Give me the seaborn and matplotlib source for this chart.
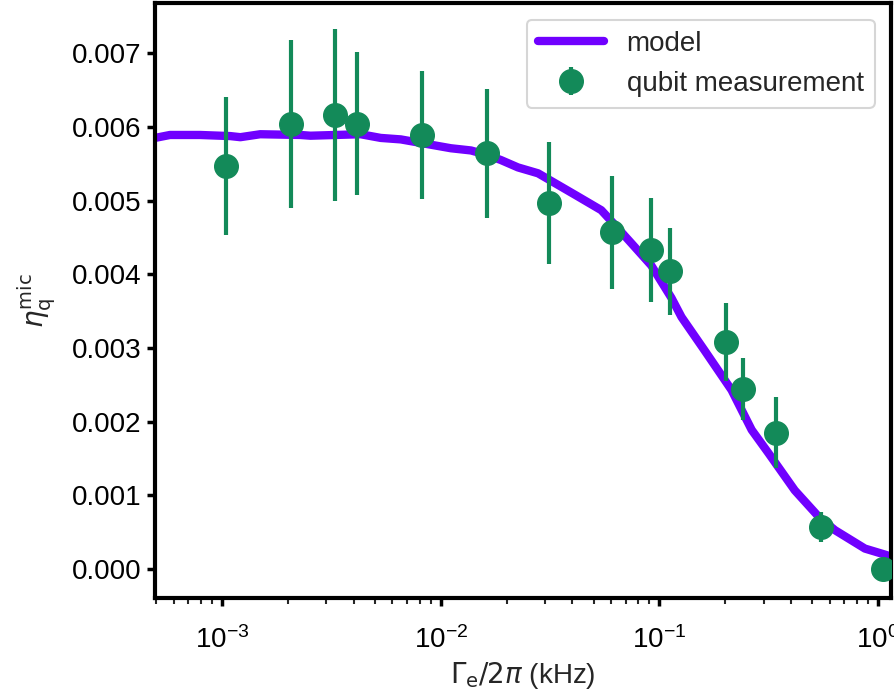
import matplotlib
matplotlib.use("Agg")
import matplotlib.pyplot as plt
import seaborn as sns
import pandas as pd
import numpy as np

# Measured data (Gamma_e/2pi in kHz, eta)
meas_x = [1.04e-3, 2.07e-3, 3.27e-3, 4.12e-3, 8.18e-3, 1.63e-2, 3.13e-2, 6.08e-2,
          9.18e-2, 0.112, 0.201, 0.240, 0.340, 0.548, 1.05]
meas_y = [5.47e-3, 6.04e-3, 6.16e-3, 6.04e-3, 5.89e-3, 5.64e-3, 4.97e-3, 4.57e-3,
          4.33e-3, 4.04e-3, 3.08e-3, 2.44e-3, 1.85e-3, 0.57e-3, 0.0]
meas_err = [0.93e-3, 1.14e-3, 1.17e-3, 0.97e-3, 0.87e-3, 0.88e-3, 0.83e-3, 0.77e-3,
            0.70e-3, 0.59e-3, 0.53e-3, 0.42e-3, 0.48e-3, 0.20e-3, 0.0]

# Model curve
model_x = [4.93e-4, 5.77e-4, 7.93e-4, 1.089e-3, 1.211e-3, 1.493e-3, 2.280e-3, 2.535e-3,
           4.30e-3, 5.31e-3, 6.56e-3, 1.112e-2, 1.374e-2, 1.626e-2, 1.884e-2, 2.254e-2,
           2.786e-2, 4.16e-2, 5.42e-2, 6.08e-2, 7.45e-2, 9.18e-2, 0.1135, 0.1262,
           0.1607, 0.2138, 0.2642, 0.3162, 0.416, 0.536, 0.635, 0.871, 1.099]
model_y = [5.85e-3, 5.89e-3, 5.89e-3, 5.875e-3, 5.86e-3, 5.90e-3, 5.89e-3, 5.88e-3,
           5.90e-3, 5.85e-3, 5.83e-3, 5.71e-3, 5.68e-3, 5.62e-3, 5.55e-3, 5.45e-3,
           5.37e-3, 5.07e-3, 4.87e-3, 4.71e-3, 4.42e-3, 4.12e-3, 3.68e-3, 3.42e-3,
           2.97e-3, 2.43e-3, 1.89e-3, 1.57e-3, 1.07e-3, 0.71e-3, 0.53e-3, 0.28e-3, 0.19e-3]

line_color = "#7000ff"
pt_color = "#138a59"

sns.set_style("ticks")
plt.rcParams['font.family'] = ['Liberation Sans', 'DejaVu Sans']
plt.rcParams['mathtext.fontset'] = 'dejavusans'

fig = plt.figure(figsize=(8.94, 6.98), dpi=100)
ax = fig.add_axes([0.1734, 0.1433, 0.8236, 0.8524])

model_df = pd.DataFrame({"x": model_x, "y": model_y})
sns.lineplot(data=model_df, x="x", y="y", ax=ax, color=line_color, linewidth=6,
             label="model", zorder=2)
ax.errorbar(meas_x, meas_y, yerr=meas_err, fmt="o", color=pt_color, markersize=17,
            elinewidth=3, capsize=0, label="qubit measurement", zorder=3)

ax.set_xscale("log")
ax.set_xlim(4.93e-4, 1.15)
ax.set_ylim(-0.00039, 0.00768)
ax.set_yticks([0.0, 0.001, 0.002, 0.003, 0.004, 0.005, 0.006, 0.007])
ax.set_yticklabels(["0.000", "0.001", "0.002", "0.003", "0.004", "0.005", "0.006", "0.007"])

for s in ax.spines.values():
    s.set_linewidth(3)
    s.set_color("black")
ax.tick_params(axis="both", which="major", length=6, width=2.5, labelsize=20, colors="black")
ax.tick_params(axis="x", which="minor", length=4, width=1.5)
ax.tick_params(axis="x", which="major", pad=14)

ax.set_xlabel(r"$\Gamma_\mathrm{e}/2\pi$ (kHz)", fontsize=20, labelpad=5)
ax.set_ylabel(r"$\eta_\mathrm{q}^\mathrm{mic}$", fontsize=20, labelpad=10)

leg = ax.legend(loc="upper right", fontsize=20, frameon=True, handlelength=2.4,
                borderaxespad=0.6, handletextpad=0.8)
leg.get_frame().set_edgecolor("#cccccc")
leg.get_frame().set_linewidth(1.5)

fig.savefig("out.png", dpi=100)
